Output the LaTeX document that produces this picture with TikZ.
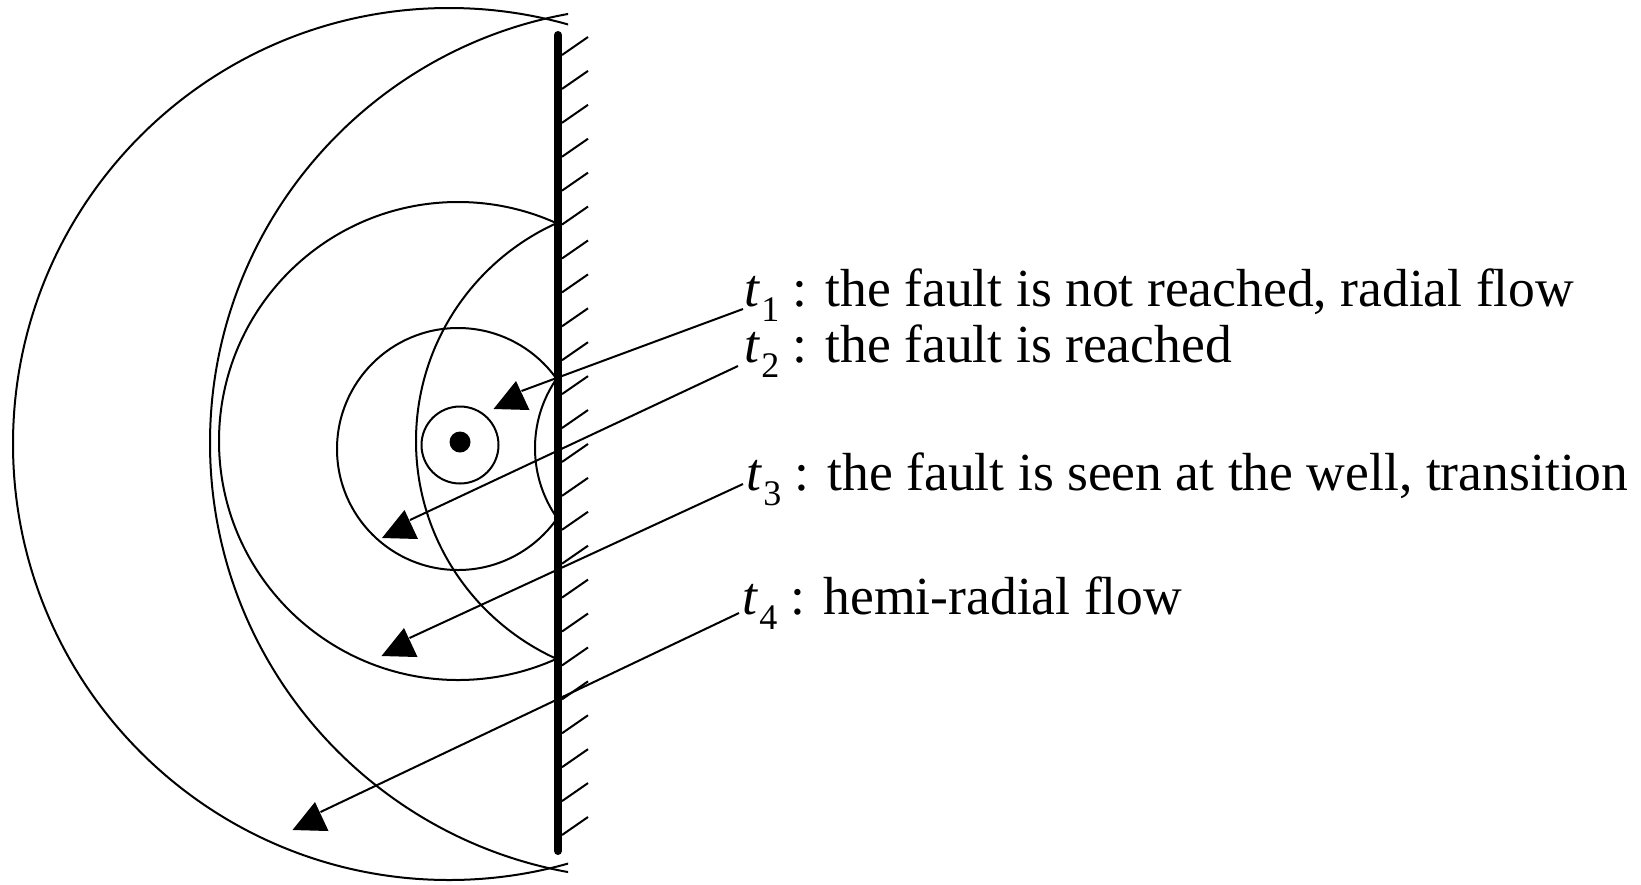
\documentclass[tikz,border=0pt]{standalone}
\usepackage{fontspec}
\setmainfont{Liberation Serif}
\newcommand\tsb[1]{\textit{t}\kern0.02em\raisebox{-0.28em}{\fontsize{18pt}{18pt}\selectfont #1}}
\begin{document}
\begin{tikzpicture}[x=0.5pt,y=-0.5pt,
  curve/.style={line width=1pt},
  faultline/.style={line width=4pt, line cap=round},
  hatch/.style={line width=1pt},
  leader/.style={line width=1pt},
  lab/.style={anchor=base west, inner sep=0pt, font=\fontsize{26.8pt}{30pt}\selectfont},
  welldot/.style={circle, fill=black, inner sep=0pt, minimum size=10.5pt},
  marker/.pic={\fill (4.5,-28) -- (-18,0) -- (18,1) -- cycle; \coordinate (-end) at (10,-18);}
]
\useasboundingbox (0,0) rectangle (1641,884);

% big real and image circles
\begin{scope}
  \clip (0,0) rectangle (568,884);
  \draw[curve] (449,444) circle (436);
  \draw[curve] (646,443) circle (436);
\end{scope}
\begin{scope}
  \clip (0,0) rectangle (559,884);
  \draw[curve] (458,441) circle (239);
  \draw[curve] (655,441) circle (239);
  \draw[curve] (458,449) circle (121);
  \draw[curve] (657,448) circle (122);
\end{scope}
\draw[curve] (460,445) circle (38.5);
\node[welldot] (well) at (460,442) {};

% fault
\coordinate (ftop) at (558,35);
\coordinate (fbot) at (558,851);
\draw[faultline] (ftop) -- (fbot);
\foreach \i in {0,...,23} {
  \draw[hatch] (562,55+33.913*\i) -- ++(26,-18);
}

% labels
\node[lab] (lab1) at (744,306) {\tsb{1} : the fault is not reached, radial flow};
\node[lab] (lab2) at (744,362) {\tsb{2} : the fault is reached};
\node[lab] (lab3) at (746,490) {\tsb{3} : the fault is seen at the well, transition};
\node[lab] (lab4) at (742,614) {\tsb{4} : hemi-radial flow};

% markers
\pic (m1) at (511.5,409) {marker};
\pic (m2) at (400,538) {marker};
\pic (m3) at (399.5,656) {marker};
\pic (m4) at (310.5,830) {marker};

% leaders
\coordinate (s1) at (743,309);
\coordinate (s2) at (738,366);
\coordinate (s3) at (743,484);
\coordinate (s4) at (739,613);
\draw[leader] (s1) -- (m1-end);
\draw[leader] (s2) -- (m2-end);
\draw[leader] (s3) -- (m3-end);
\draw[leader] (s4) -- (m4-end);
\end{tikzpicture}
\end{document}
